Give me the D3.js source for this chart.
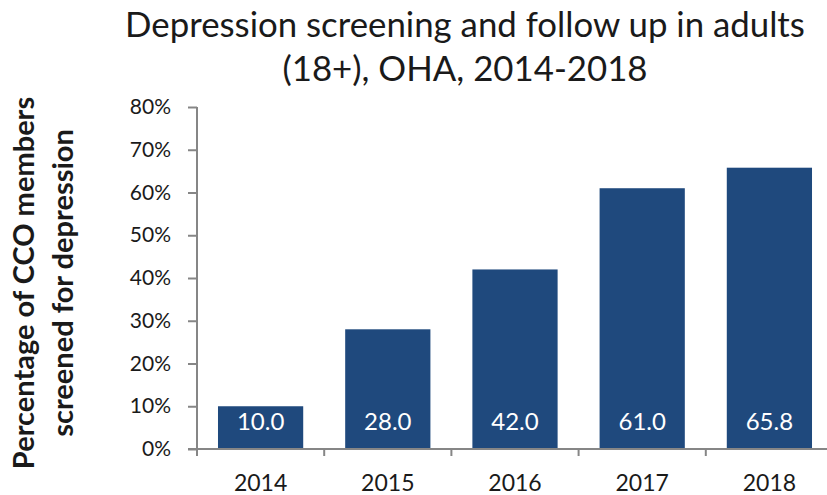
<!DOCTYPE html>
<html>
<head>
<meta charset="utf-8">
<script src="https://cdn.jsdelivr.net/npm/d3@7/dist/d3.min.js"></script>
<style>
  html, body { margin: 0; padding: 0; background: #fff; }
  svg { display: block; }
  text { font-family: Lato, "Open Sans", sans-serif; }
</style>
</head>
<body>
<svg id="chart" width="827" height="495"></svg>
<script>
// Chart data
const years = ["2014", "2015", "2016", "2017", "2018"];
const screened = [10.0, 28.0, 42.0, 61.0, 65.8];
const yTicks = [0, 10, 20, 30, 40, 50, 60, 70, 80];
const titleLines = ["Depression screening and follow up in adults", "(18+), OHA, 2014-2018"];
const yTitleLines = ["Percentage of CCO members", "screened for depression"];

const svg = d3.select("#chart");
const barColor = "#1F497D";
const axisColor = "#868686";
const textColor = "#1a1a1a";

const plot = { left: 197, right: 833, top: 107, bottom: 449 };

const x = d3.scaleBand()
  .domain(years)
  .range([plot.left, plot.right])
  .paddingInner(0.33)
  .paddingOuter(0.165);

const y = d3.scaleLinear()
  .domain([0, 80])
  .range([plot.bottom, plot.top]);

// Title
svg.append("text")
  .attr("text-anchor", "middle")
  .attr("fill", textColor)
  .style("font-size", "34.8px")
  .selectAll("tspan")
  .data(titleLines)
  .join("tspan")
  .attr("x", 465)
  .attr("y", (d, i) => 37 + i * 44)
  .text(d => d);

// Bars
svg.append("g")
  .selectAll("rect")
  .data(screened)
  .join("rect")
  .attr("x", (d, i) => x(years[i]))
  .attr("y", d => y(d))
  .attr("width", x.bandwidth())
  .attr("height", d => y(0) - y(d))
  .attr("fill", barColor);

// Value labels inside bars
svg.append("g")
  .selectAll("text")
  .data(screened)
  .join("text")
  .attr("x", (d, i) => x(years[i]) + x.bandwidth() / 2)
  .attr("y", y(0) - 19)
  .attr("text-anchor", "middle")
  .attr("fill", "#ffffff")
  .style("font-size", "24px")
  .text(d => d.toFixed(1));

// Y axis
const yAxis = d3.axisLeft(y)
  .tickValues(yTicks)
  .tickSize(9)
  .tickPadding(17)
  .tickFormat(d => d + "%");

svg.append("g")
  .attr("transform", `translate(${plot.left},0)`)
  .call(yAxis)
  .call(g => g.select(".domain").attr("stroke", axisColor).attr("stroke-width", 2)
    .attr("d", `M0,${plot.top}V${plot.bottom}`))
  .call(g => g.selectAll(".tick line").attr("stroke", axisColor).attr("stroke-width", 2))
  .call(g => g.selectAll(".tick text")
    .attr("fill", textColor)
    .style("font-size", "21px")
    .style("font-family", "Lato, sans-serif"));

// X axis with ticks at the category boundaries
const xAxis = d3.axisBottom(x).tickSize(0).tickPadding(26);
svg.append("g")
  .attr("transform", `translate(0,${plot.bottom})`)
  .call(xAxis)
  .call(g => g.select(".domain").attr("stroke", axisColor).attr("stroke-width", 2)
    .attr("d", `M${plot.left - 9},0H${plot.right}`))
  .call(g => g.selectAll(".tick text")
    .attr("fill", textColor)
    .style("font-size", "23px")
    .style("font-family", "Lato, sans-serif"));

const boundaries = years.map(d => x(d) - x.step() * x.paddingInner() / 2);
boundaries[0] = plot.left;
svg.append("g")
  .selectAll("line")
  .data(boundaries)
  .join("line")
  .attr("x1", d => d)
  .attr("x2", d => d)
  .attr("y1", plot.bottom)
  .attr("y2", plot.bottom + 7)
  .attr("stroke", axisColor)
  .attr("stroke-width", 2);

// Y axis title
svg.append("text")
  .attr("transform", "translate(0,283) rotate(-90)")
  .attr("text-anchor", "middle")
  .attr("fill", textColor)
  .style("font-size", "29px")
  .style("font-weight", "bold")
  .selectAll("tspan")
  .data(yTitleLines)
  .join("tspan")
  .attr("x", 0)
  .attr("y", (d, i) => 34 + i * 39)
  .text(d => d);
</script>
</body>
</html>
